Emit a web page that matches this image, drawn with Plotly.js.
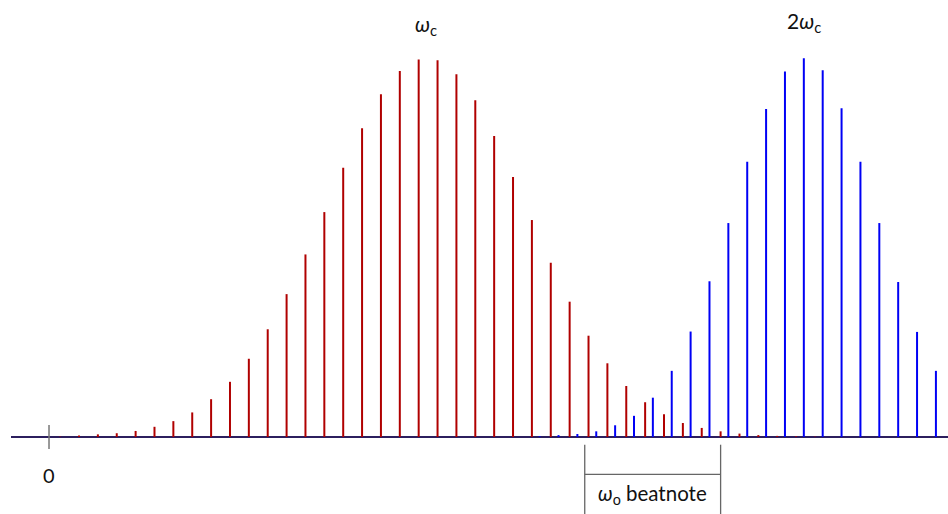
<!DOCTYPE html>
<html>
<head>
<meta charset="utf-8">
<script src="https://cdn.plot.ly/plotly-3.0.1.min.js"></script>
<style>
  html, body { margin: 0; padding: 0; background: #ffffff; }
  #chart { width: 948px; height: 514px; }
</style>
</head>
<body>
<div id="chart"></div>
<script>
// Frequency comb: fundamental comb (red) around ωc and its second harmonic (blue) around 2ωc.
// Frequencies are in units of the repetition rate; intensities are relative to the peak.

const fundamentalModes = [0, 1, 2, 3, 4, 5, 6, 7, 8, 9, 10, 11, 12, 13, 14, 15, 16, 17, 18, 19, 20,
  21, 22, 23, 24, 25, 26, 27, 28, 29, 30, 31, 32, 33, 34, 35, 36, 37, 38, 39, 40];
const fundamentalOffset = 0.59;
const fundamentalIntensity = [0.001, 0.004, 0.007, 0.010, 0.016, 0.027, 0.042, 0.065, 0.100, 0.146,
  0.207, 0.285, 0.378, 0.483, 0.595, 0.712, 0.817, 0.907, 0.968, 0.999, 0.997,
  0.960, 0.891, 0.796, 0.688, 0.574, 0.461, 0.358, 0.268, 0.195, 0.135,
  0.092, 0.060, 0.037, 0.024, 0.015, 0.009, 0.005, 0.003, 0.002, 0.001];

const harmonicModes = [26, 27, 28, 29, 30, 31, 32, 33, 34, 35, 36, 37, 38, 39, 40,
  41, 42, 43, 44, 45, 46, 47];
const harmonicIntensity = [0.002, 0.005, 0.008, 0.015, 0.031, 0.056, 0.104, 0.175, 0.279, 0.412,
  0.566, 0.728, 0.868, 0.967, 1.002, 0.970, 0.870, 0.728, 0.566, 0.410, 0.278, 0.175];

const tickValues = [0];
const tickLabels = ['0'];
const combLabels = ['<i>ω</i><sub>c</sub>', '2<i>ω</i><sub>c</sub>'];
const combLabelFreq = [20, 40];
const beatnoteLabel = '<i>ω</i><sub>o</sub> beatnote';
const beatnoteSpan = [28.39, 35.59];

const fundamentalFreq = fundamentalModes.map(n => n + fundamentalOffset);

// Each comb tooth is a vertical stroke from the baseline up to its intensity;
// strokes are separated by null gaps so one trace draws the whole comb.
function spikes(freqs, heights) {
  const x = [], y = [];
  freqs.forEach((f, i) => {
    x.push(f, f, null);
    y.push(0, heights[i], null);
  });
  return { x, y };
}

const FONT = 'Lato, "Open Sans", "DejaVu Sans", sans-serif';

const red = spikes(fundamentalFreq, fundamentalIntensity);
const blue = spikes(harmonicModes, harmonicIntensity);

const traces = [
  {
    type: 'scatter', mode: 'lines',
    x: red.x, y: red.y,
    line: { color: '#b00000', width: 2 },
    connectgaps: false, hoverinfo: 'skip', showlegend: false
  },
  {
    type: 'scatter', mode: 'lines',
    x: blue.x, y: blue.y,
    line: { color: '#0000f5', width: 2 },
    connectgaps: false, hoverinfo: 'skip', showlegend: false
  }
];

const yBase = -0.2037;
const annotations = [];
combLabels.forEach((t, i) => {
  annotations.push({
    x: combLabelFreq[i], y: i === 0 ? 1.090 : 1.097, xref: 'x', yref: 'y',
    text: t, showarrow: false, xanchor: 'center', yanchor: 'middle',
    font: { family: FONT, size: 21, color: '#111111' }
  });
});
tickValues.forEach((v, i) => {
  annotations.push({
    x: v, y: -0.100, xref: 'x', yref: 'y',
    text: tickLabels[i], showarrow: false, xanchor: 'center', yanchor: 'middle',
    font: { family: FONT, size: 20, color: '#111111' }
  });
});
annotations.push({
  x: (beatnoteSpan[0] + beatnoteSpan[1]) / 2, y: -0.151, xref: 'x', yref: 'y',
  text: beatnoteLabel, showarrow: false, xanchor: 'center', yanchor: 'middle',
  font: { family: FONT, size: 20.5, color: '#111111' }
});

const grey = '#666666';
const shapes = [];
tickValues.forEach(v => {
  shapes.push({ type: 'line', xref: 'x', yref: 'y', x0: v, x1: v, y0: 0.032, y1: -0.032,
    line: { color: '#777777', width: 1.5 } });
});
beatnoteSpan.forEach(v => {
  shapes.push({ type: 'line', xref: 'x', yref: 'y', x0: v, x1: v, y0: -0.0204, y1: yBase,
    line: { color: grey, width: 1.3 } });
});
shapes.push({ type: 'line', xref: 'x', yref: 'y', x0: beatnoteSpan[0], x1: beatnoteSpan[1],
  y0: -0.0987, y1: -0.0987, line: { color: grey, width: 1.3 } });

const layout = {
  width: 948,
  height: 514,
  margin: { l: 11, r: 0, t: 0, b: 0, pad: 0 },
  paper_bgcolor: '#ffffff',
  plot_bgcolor: '#ffffff',
  xaxis: {
    range: [-2.014, 47.64],
    showgrid: false, zeroline: false, showline: false,
    showticklabels: false, ticks: '', fixedrange: true
  },
  yaxis: {
    range: [yBase, 1.1561],
    showgrid: false, showline: false, showticklabels: false, ticks: '',
    zeroline: true, zerolinecolor: '#2c1f5e', zerolinewidth: 2,
    fixedrange: true
  },
  shapes: shapes,
  annotations: annotations,
  showlegend: false
};

Plotly.newPlot('chart', traces, layout, { displayModeBar: false, staticPlot: true });
</script>
</body>
</html>
